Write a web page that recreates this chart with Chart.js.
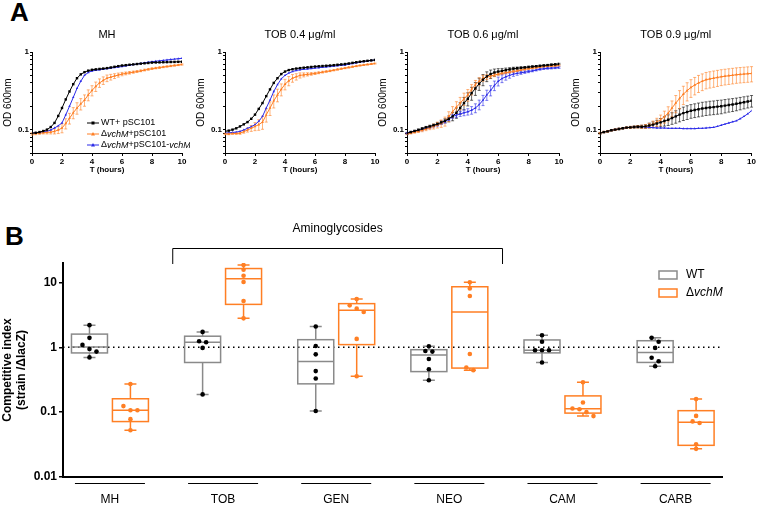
<!DOCTYPE html>
<html>
<head>
<meta charset="utf-8">
<script src="https://cdn.jsdelivr.net/npm/chart.js@4.4.1/dist/chart.umd.min.js"></script>
<style>
body { margin: 0; width: 757px; height: 505px; background: #fff; position: relative; overflow: hidden; font-family: "Liberation Sans", Arial, sans-serif; }
canvas { position: absolute; }
.panel { position: absolute; font-weight: bold; font-size: 26px; line-height: 30px; }
</style>
</head>
<body>
<div class="panel" style="left:10px;top:-3px">A</div>
<div class="panel" style="left:5px;top:221px">B</div>
<canvas id="a1" width="188" height="157" style="left:2px;top:20px"></canvas>
<canvas id="a2" width="188" height="157" style="left:195px;top:20px"></canvas>
<canvas id="a3" width="190" height="157" style="left:377px;top:20px"></canvas>
<canvas id="a4" width="187" height="157" style="left:570px;top:20px"></canvas>
<canvas id="b" width="757" height="290" style="left:0px;top:215px"></canvas>
<script>
// ---- panel A : growth curves (OD600, every 15 min) ----
const times = [0, 0.25, 0.5, 0.75, 1, 1.25, 1.5, 1.75, 2, 2.25,
    2.5, 2.75, 3, 3.25, 3.5, 3.75, 4, 4.25, 4.5, 4.75,
    5, 5.25, 5.5, 5.75, 6, 6.25, 6.5, 6.75, 7, 7.25,
    7.5, 7.75, 8, 8.25, 8.5, 8.75, 9, 9.25, 9.5, 9.75, 10];

const panelTitles = ['MH', 'TOB 0.4 \u03bcg/ml', 'TOB 0.6 \u03bcg/ml', 'TOB 0.9 \u03bcg/ml'];

// MH
const mhWT = [0.090,0.091,0.093,0.096,0.100,0.108,0.122,0.150,0.190,0.245,
    0.310,0.385,0.460,0.515,0.550,0.575,0.590,0.598,0.605,0.612,
    0.620,0.632,0.645,0.657,0.670,0.677,0.685,0.692,0.700,0.708,
    0.715,0.722,0.730,0.733,0.735,0.738,0.740,0.743,0.745,0.748,0.750];
const mhVchM = [0.088,0.089,0.090,0.091,0.092,0.093,0.095,0.099,0.105,0.120,
    0.140,0.165,0.190,0.215,0.240,0.280,0.320,0.360,0.400,0.430,
    0.460,0.475,0.490,0.505,0.520,0.530,0.540,0.550,0.560,0.572,
    0.585,0.598,0.610,0.620,0.630,0.640,0.650,0.660,0.670,0.680,0.690];
const mhVchMErr = [0.003,0.003,0.003,0.003,0.004,0.005,0.007,0.010,0.014,0.018,
    0.022,0.027,0.032,0.036,0.040,0.045,0.048,0.050,0.050,0.048,
    0.045,0.040,0.035,0.030,0.026,0.022,0.020,0.018,0.016,0.015,
    0.015,0.014,0.014,0.013,0.013,0.012,0.012,0.012,0.012,0.012,0.012];
const mhRescue = [0.090,0.091,0.092,0.093,0.095,0.099,0.105,0.112,0.122,0.155,
    0.200,0.260,0.340,0.420,0.500,0.545,0.570,0.580,0.590,0.600,
    0.610,0.620,0.630,0.640,0.650,0.662,0.675,0.688,0.700,0.712,
    0.725,0.738,0.750,0.760,0.770,0.780,0.790,0.800,0.810,0.820,0.830];

// TOB 0.4
const tob4WT = [0.095,0.097,0.100,0.104,0.110,0.117,0.125,0.138,0.156,0.185,
    0.220,0.270,0.330,0.400,0.460,0.520,0.560,0.585,0.600,0.612,
    0.620,0.628,0.635,0.642,0.650,0.655,0.660,0.665,0.670,0.677,
    0.685,0.692,0.700,0.712,0.725,0.738,0.750,0.760,0.770,0.780,0.790];
const tob4VchM = [0.088,0.088,0.089,0.089,0.090,0.094,0.099,0.104,0.110,0.116,
    0.125,0.155,0.190,0.235,0.280,0.330,0.385,0.425,0.460,0.480,
    0.500,0.508,0.515,0.522,0.530,0.540,0.550,0.560,0.570,0.582,
    0.595,0.608,0.620,0.632,0.645,0.657,0.670,0.680,0.690,0.700,0.710];
const tob4VchMErr = [0.002,0.002,0.002,0.002,0.003,0.004,0.006,0.009,0.013,0.018,
    0.024,0.030,0.038,0.045,0.052,0.058,0.060,0.058,0.052,0.045,
    0.038,0.030,0.024,0.020,0.017,0.015,0.014,0.013,0.012,0.012,
    0.011,0.011,0.011,0.010,0.010,0.010,0.010,0.010,0.010,0.010,0.010];
const tob4Rescue = [0.090,0.091,0.092,0.093,0.095,0.099,0.104,0.109,0.116,0.128,
    0.148,0.190,0.240,0.310,0.380,0.450,0.500,0.535,0.560,0.578,
    0.590,0.598,0.605,0.612,0.620,0.628,0.635,0.642,0.650,0.657,
    0.665,0.672,0.680,0.695,0.710,0.725,0.740,0.752,0.765,0.778,0.790];

// TOB 0.6
const tob6WT = [0.090,0.093,0.096,0.099,0.103,0.107,0.110,0.114,0.118,0.124,
    0.130,0.138,0.148,0.165,0.190,0.220,0.250,0.295,0.340,0.390,
    0.440,0.485,0.520,0.545,0.560,0.572,0.585,0.598,0.610,0.618,
    0.625,0.632,0.640,0.648,0.655,0.662,0.670,0.677,0.685,0.692,0.700];
const tob6WTErr = [0.002,0.002,0.002,0.003,0.003,0.003,0.004,0.004,0.005,0.006,
    0.008,0.012,0.018,0.025,0.032,0.040,0.048,0.056,0.064,0.070,
    0.072,0.070,0.065,0.058,0.050,0.042,0.036,0.030,0.026,0.022,
    0.020,0.018,0.017,0.016,0.015,0.015,0.015,0.015,0.015,0.015,0.015];
const tob6VchM = [0.088,0.090,0.093,0.095,0.098,0.102,0.106,0.110,0.115,0.120,
    0.128,0.148,0.170,0.195,0.220,0.250,0.280,0.330,0.380,0.420,
    0.460,0.475,0.490,0.505,0.520,0.530,0.540,0.550,0.560,0.572,
    0.585,0.598,0.610,0.620,0.630,0.640,0.650,0.655,0.660,0.665,0.670];
const tob6VchMErr = [0.002,0.002,0.003,0.003,0.004,0.005,0.006,0.008,0.010,0.013,
    0.017,0.022,0.028,0.034,0.040,0.045,0.048,0.050,0.050,0.046,
    0.040,0.034,0.028,0.024,0.020,0.018,0.016,0.015,0.014,0.013,
    0.013,0.012,0.012,0.012,0.012,0.012,0.012,0.012,0.012,0.012,0.012];
const tob6Rescue = [0.090,0.092,0.095,0.097,0.100,0.104,0.107,0.111,0.115,0.121,
    0.127,0.137,0.148,0.154,0.160,0.165,0.170,0.178,0.190,0.210,
    0.240,0.280,0.320,0.370,0.420,0.455,0.480,0.500,0.520,0.530,
    0.540,0.550,0.560,0.572,0.585,0.598,0.610,0.615,0.620,0.625,0.630];
const tob6RescueErr = [0.002,0.002,0.002,0.002,0.003,0.003,0.003,0.003,0.004,0.004,
    0.005,0.006,0.008,0.010,0.012,0.014,0.016,0.020,0.025,0.030,
    0.036,0.042,0.048,0.052,0.055,0.052,0.046,0.040,0.034,0.028,
    0.024,0.020,0.018,0.016,0.015,0.015,0.015,0.015,0.015,0.015,0.015];

// TOB 0.9
const tob9WT = [0.090,0.093,0.095,0.098,0.100,0.102,0.104,0.106,0.107,0.108,
    0.109,0.109,0.110,0.113,0.116,0.120,0.124,0.129,0.134,0.141,
    0.148,0.156,0.163,0.169,0.175,0.179,0.183,0.187,0.190,0.193,
    0.195,0.198,0.200,0.204,0.208,0.211,0.215,0.220,0.225,0.230,0.235];
const tob9WTErr = [0.002,0.002,0.002,0.002,0.002,0.002,0.002,0.002,0.003,0.003,
    0.004,0.005,0.006,0.008,0.010,0.012,0.015,0.018,0.021,0.024,
    0.027,0.030,0.032,0.034,0.035,0.036,0.037,0.038,0.038,0.039,
    0.039,0.040,0.040,0.040,0.040,0.040,0.040,0.040,0.040,0.040,0.040];
const tob9VchM = [0.090,0.093,0.095,0.098,0.100,0.102,0.104,0.106,0.107,0.108,
    0.109,0.109,0.110,0.113,0.118,0.125,0.134,0.147,0.163,0.190,
    0.220,0.252,0.286,0.318,0.350,0.375,0.400,0.420,0.440,0.450,
    0.460,0.470,0.480,0.488,0.495,0.502,0.510,0.515,0.520,0.525,0.530];
const tob9VchMErr = [0.002,0.002,0.002,0.002,0.002,0.002,0.002,0.002,0.003,0.003,
    0.004,0.005,0.006,0.008,0.011,0.015,0.020,0.026,0.034,0.044,
    0.055,0.066,0.076,0.084,0.090,0.095,0.099,0.102,0.105,0.107,
    0.109,0.110,0.111,0.112,0.113,0.114,0.115,0.116,0.117,0.118,0.118];
const tob9Rescue = [0.090,0.093,0.095,0.098,0.100,0.102,0.104,0.106,0.107,0.108,
    0.108,0.108,0.108,0.107,0.106,0.105,0.105,0.105,0.104,0.104,
    0.104,0.104,0.103,0.103,0.103,0.103,0.104,0.104,0.105,0.106,
    0.107,0.110,0.114,0.118,0.122,0.126,0.130,0.138,0.148,0.160,0.175];

const odTicks = [0.05, 0.06, 0.07, 0.08, 0.09, 0.1, 0.2, 0.3, 0.4, 0.5, 0.6, 0.7, 0.8, 0.9, 1];

// ---- panel B : competition index ----
const groups = ['MH', 'TOB', 'GEN', 'NEO', 'CAM', 'CARB'];
const wtValues = [
    [2.2, 1.4, 1.09, 0.94, 0.86, 0.70],
    [1.73, 1.24, 1.20, 0.98, 0.188],
    [2.1, 1.05, 0.78, 0.43, 0.33, 0.104],
    [1.04, 0.88, 0.86, 0.66, 0.46, 0.31],
    [1.54, 1.22, 0.90, 0.90, 0.90, 0.585],
    [1.40, 1.22, 0.98, 0.69, 0.61, 0.51]
];
const vchmValues = [
    [0.272, 0.124, 0.107, 0.107, 0.078, 0.0525],
    [18.6, 15.7, 12.7, 10.2, 5.2, 2.8],
    [5.57, 4.44, 3.95, 3.5, 1.35, 0.358],
    [10.1, 8.1, 6.2, 0.79, 0.49, 0.445],
    [0.29, 0.141, 0.114, 0.111, 0.10, 0.087],
    [0.159, 0.0876, 0.072, 0.068, 0.032, 0.0272]
];
const ciTicks = [0.01, 0.1, 1, 10];

const BLACK = '#000000';
const ORANGE = '#ff7f24';
const BLUE = '#2b2be8';
const GREY = '#8a8a8a';
const FONT = '"Liberation Sans", Arial, sans-serif';

// draws vertical SD bars for datasets that carry an `errors` array
const errorBars = {
    id: 'errorBars',
    beforeDatasetsDraw(chart) {
        const { ctx, scales: { x, y } } = chart;
        chart.data.datasets.forEach(ds => {
            if (!ds.errors) return;
            ctx.save();
            ctx.strokeStyle = ds.borderColor;
            ctx.globalAlpha = 0.75;
            ctx.lineWidth = 0.8;
            ds.data.forEach((p, i) => {
                const e = ds.errors[i];
                if (!e) return;
                const px = x.getPixelForValue(p.x);
                const top = y.getPixelForValue(p.y + e);
                const bot = y.getPixelForValue(Math.max(p.y - e, 0.051));
                ctx.beginPath();
                ctx.moveTo(px, top); ctx.lineTo(px, bot);
                ctx.moveTo(px - 1.5, top); ctx.lineTo(px + 1.5, top);
                ctx.moveTo(px - 1.5, bot); ctx.lineTo(px + 1.5, bot);
                ctx.stroke();
            });
            ctx.restore();
        });
    }
};

// text with some italic parts, e.g. [['\u0394', false], ['vchM', true]]
function drawRich(ctx, parts, x, y, size) {
    parts.forEach(([txt, it]) => {
        ctx.font = (it ? 'italic ' : '') + size + 'px ' + FONT;
        ctx.fillText(txt, x, y);
        x += ctx.measureText(txt).width;
    });
}

const panelTitle = {
    id: 'panelTitle',
    afterDraw(chart, args, opts) {
        const { ctx, chartArea } = chart;
        ctx.save();
        ctx.fillStyle = BLACK;
        ctx.font = '11px ' + FONT;
        ctx.textAlign = 'center';
        ctx.textBaseline = 'middle';
        ctx.fillText(opts.text, (chartArea.left + chartArea.right) / 2, chartArea.top - 17);
        ctx.restore();
    }
};

const growthLegend = {
    id: 'growthLegend',
    afterDraw(chart, args, opts) {
        if (!opts.show) return;
        const { ctx, chartArea } = chart;
        const rows = [
            [BLACK, 'rect', [['WT+ pSC101', false]]],
            [ORANGE, 'triangle', [['\u0394', false], ['vchM', true], ['+pSC101', false]]],
            [BLUE, 'triangle', [['\u0394', false], ['vchM', true], ['+pSC101-', false], ['vchM', true]]]
        ];
        ctx.save();
        rows.forEach((r, i) => {
            const y = chartArea.bottom - 30 + i * 11;
            const x0 = chartArea.left + 55;
            ctx.strokeStyle = r[0];
            ctx.lineWidth = 1;
            ctx.beginPath(); ctx.moveTo(x0, y); ctx.lineTo(x0 + 12, y); ctx.stroke();
            ctx.fillStyle = r[0];
            if (r[1] === 'rect') ctx.fillRect(x0 + 4.5, y - 1.5, 3, 3);
            else { ctx.beginPath(); ctx.moveTo(x0 + 6, y - 2); ctx.lineTo(x0 + 8, y + 1.5); ctx.lineTo(x0 + 4, y + 1.5); ctx.fill(); }
            ctx.fillStyle = BLACK;
            ctx.textBaseline = 'middle';
            drawRich(ctx, r[2], x0 + 14, y, 9);
        });
        ctx.restore();
    }
};

function toPoints(ys) {
    return times.map((t, i) => ({ x: t, y: ys[i] }));
}

function growthChart(id, title, wt, vchm, rescue, errs, padRight, showLegend) {
    const line = (label, ys, color, style, radius, err) => ({
        label: label,
        data: toPoints(ys),
        errors: err,
        borderColor: color,
        backgroundColor: color,
        borderWidth: 1,
        pointStyle: style,
        pointRadius: radius,
        pointBorderWidth: 0,
        tension: 0
    });
    new Chart(document.getElementById(id), {
        type: 'line',
        data: {
            datasets: [
                line('WT+ pSC101', wt, BLACK, 'rect', 1.7, errs[0]),
                line('\u0394vchM+pSC101', vchm, ORANGE, 'triangle', 1.6, errs[1]),
                line('\u0394vchM+pSC101-vchM', rescue, BLUE, 'triangle', 1.4, errs[2])
            ]
        },
        options: {
            responsive: false,
            animation: false,
            devicePixelRatio: 1,
            events: [],
            layout: { padding: { top: 32, right: padRight, left: 0, bottom: 0 } },
            scales: {
                x: {
                    type: 'linear', min: 0, max: 10,
                    afterFit: s => { s.height = 24; },
                    ticks: { stepSize: 2, color: BLACK, font: { family: FONT, size: 8, weight: 'bold' }, padding: 1, maxRotation: 0 },
                    grid: { drawOnChartArea: false, tickLength: 3, color: BLACK },
                    border: { color: BLACK, width: 1 },
                    title: { display: true, text: 'T (hours)', color: BLACK, font: { family: FONT, size: 8, weight: 'bold' }, padding: { top: 0, bottom: 2 } }
                },
                y: {
                    type: 'logarithmic', min: 0.05, max: 1,
                    afterFit: s => { s.width = 30; },
                    afterBuildTicks: s => { s.ticks = odTicks.map(v => ({ value: v })); },
                    ticks: {
                        color: BLACK, padding: 1, autoSkip: false,
                        font: { family: FONT, size: 8, weight: 'bold' },
                        callback: v => (v === 1 ? '1' : v === 0.1 ? '0.1' : '')
                    },
                    grid: { drawOnChartArea: false, tickLength: 2, color: BLACK },
                    border: { color: BLACK, width: 1 },
                    title: { display: true, text: 'OD 600nm', color: BLACK, font: { family: FONT, size: 10 }, padding: { top: 0, bottom: 2 } }
                }
            },
            plugins: {
                legend: { display: false },
                tooltip: { enabled: false },
                panelTitle: { text: title },
                growthLegend: { show: showLegend }
            }
        },
        plugins: [errorBars, panelTitle, growthLegend]
    });
}

growthChart('a1', panelTitles[0], mhWT, mhVchM, mhRescue, [null, mhVchMErr, null], 8, true);
growthChart('a2', panelTitles[1], tob4WT, tob4VchM, tob4Rescue, [null, tob4VchMErr, null], 8, false);
growthChart('a3', panelTitles[2], tob6WT, tob6VchM, tob6Rescue, [tob6WTErr, tob6VchMErr, tob6RescueErr], 8, false);
growthChart('a4', panelTitles[3], tob9WT, tob9VchM, tob9Rescue, [tob9WTErr, tob9VchMErr, null], 5, false);

// ---- panel B ----
const SIDE = 0.181;     // box offset from group centre (x units)
const PX = 113.1;       // px per x unit

// quartile like Prism: position p*(n+1) on sorted values
function quantile(vals, p) {
    const a = [...vals].sort((m, n) => m - n);
    const pos = p * (a.length + 1);
    if (pos <= 1) return a[0];
    if (pos >= a.length) return a[a.length - 1];
    const lo = Math.floor(pos);
    return a[lo - 1] + (pos - lo) * (a[lo] - a[lo - 1]);
}
function boxStats(vals) {
    return [Math.min(...vals), quantile(vals, 0.25), quantile(vals, 0.5), quantile(vals, 0.75), Math.max(...vals)];
}
// spread points that sit on nearly the same height
function spread(vals) {
    const order = vals.map((v, i) => i).sort((a, b) => vals[b] - vals[a]);
    const off = new Array(vals.length).fill(0);
    let k = 0;
    while (k < order.length) {
        let j = k;
        while (j + 1 < order.length && Math.log10(vals[order[j]] / vals[order[j + 1]]) < 0.07) j++;
        const n = j - k + 1;
        for (let m = 0; m < n; m++) off[order[k + m]] = (m - (n - 1) / 2) * 7 / PX;
        k = j + 1;
    }
    return off;
}
function dots(all, side) {
    const pts = [];
    all.forEach((vals, g) => {
        const off = spread(vals);
        vals.forEach((v, i) => pts.push({ x: g + side + off[i], y: v }));
    });
    return pts;
}

const boxPlugin = {
    id: 'boxes',
    beforeDatasetsDraw(chart) {
        const { ctx, chartArea, scales: { x, y } } = chart;
        ctx.save();
        // reference line at 1
        ctx.strokeStyle = BLACK;
        ctx.lineWidth = 1.5;
        ctx.setLineDash([1.5, 3.5]);
        ctx.beginPath();
        ctx.moveTo(chartArea.left, y.getPixelForValue(1));
        ctx.lineTo(chartArea.right, y.getPixelForValue(1));
        ctx.stroke();
        ctx.setLineDash([]);
        const drawBox = (vals, cx, color) => {
            const [mn, q1, md, q3, mx] = boxStats(vals);
            const px = x.getPixelForValue(cx);
            const half = 18, cap = 6;
            ctx.strokeStyle = color;
            ctx.lineWidth = 1.5;
            ctx.beginPath();
            ctx.moveTo(px, y.getPixelForValue(mx)); ctx.lineTo(px, y.getPixelForValue(q3));
            ctx.moveTo(px, y.getPixelForValue(q1)); ctx.lineTo(px, y.getPixelForValue(mn));
            ctx.moveTo(px - cap, y.getPixelForValue(mx)); ctx.lineTo(px + cap, y.getPixelForValue(mx));
            ctx.moveTo(px - cap, y.getPixelForValue(mn)); ctx.lineTo(px + cap, y.getPixelForValue(mn));
            ctx.moveTo(px - half, y.getPixelForValue(md)); ctx.lineTo(px + half, y.getPixelForValue(md));
            ctx.stroke();
            ctx.strokeRect(px - half, y.getPixelForValue(q3), 2 * half, y.getPixelForValue(q1) - y.getPixelForValue(q3));
        };
        groups.forEach((g, i) => {
            drawBox(wtValues[i], i - SIDE, GREY);
            drawBox(vchmValues[i], i + SIDE, ORANGE);
        });
        ctx.restore();
    },
    afterDraw(chart) {
        const { ctx, chartArea, scales: { x } } = chart;
        ctx.save();
        ctx.strokeStyle = BLACK;
        ctx.lineWidth = 1;
        // group underlines
        groups.forEach((g, i) => {
            const px = x.getPixelForValue(i);
            ctx.beginPath();
            ctx.moveTo(px - 35, chartArea.bottom + 6.5);
            ctx.lineTo(px + 35, chartArea.bottom + 6.5);
            ctx.stroke();
        });
        // aminoglycosides bracket
        const xa = x.getPixelForValue(0.555), xb = x.getPixelForValue(3.47);
        const yt = chartArea.top - 14.5;
        ctx.beginPath();
        ctx.moveTo(xa, chartArea.top + 1); ctx.lineTo(xa, yt); ctx.lineTo(xb, yt); ctx.lineTo(xb, chartArea.top + 1);
        ctx.stroke();
        ctx.fillStyle = BLACK;
        ctx.font = '12px ' + FONT;
        ctx.textAlign = 'center';
        ctx.textBaseline = 'middle';
        ctx.fillText('Aminoglycosides', (xa + xb) / 2, chartArea.top - 34);
        // legend
        ctx.textAlign = 'left';
        ctx.lineWidth = 1.5;
        const lx = chartArea.right - 63;
        [[GREY, [['WT', false]]], [ORANGE, [['\u0394', false], ['vchM', true]]]].forEach((r, i) => {
            const ly = chartArea.top + 12 + i * 18;
            ctx.strokeStyle = r[0];
            ctx.strokeRect(lx, ly - 4, 18, 8);
            ctx.fillStyle = BLACK;
            drawRich(ctx, r[1], lx + 27, ly, 12);
        });
        ctx.restore();
    }
};

new Chart(document.getElementById('b'), {
    type: 'scatter',
    data: {
        datasets: [
            { label: 'WT', data: dots(wtValues, -SIDE), backgroundColor: BLACK, pointRadius: 2.3, pointBorderWidth: 0 },
            { label: '\u0394vchM', data: dots(vchmValues, SIDE), backgroundColor: ORANGE, pointRadius: 2.3, pointBorderWidth: 0 }
        ]
    },
    options: {
        responsive: false,
        animation: false,
        devicePixelRatio: 1,
        events: [],
        layout: { padding: { top: 48, right: 35, left: 0, bottom: 0 } },
        scales: {
            x: {
                type: 'linear', min: -0.415, max: 5.41,
                afterFit: s => { s.height = 28; },
                afterBuildTicks: s => { s.ticks = groups.map((g, i) => ({ value: i })); },
                ticks: { color: BLACK, padding: 7, maxRotation: 0, autoSkip: false, font: { family: FONT, size: 12 }, callback: v => groups[v] },
                grid: { display: false },
                border: { color: BLACK, width: 2 }
            },
            y: {
                type: 'logarithmic', min: 0.01, max: 20,
                afterFit: s => { s.width = 63; },
                afterBuildTicks: s => { s.ticks = ciTicks.map(v => ({ value: v })); },
                ticks: { color: BLACK, padding: 2, autoSkip: false, font: { family: FONT, size: 12, weight: 'bold' }, callback: v => String(v) },
                grid: { drawOnChartArea: false, tickLength: 4, color: BLACK, lineWidth: 1.5 },
                border: { color: BLACK, width: 2 },
                title: { display: true, text: ['Competitive index', '(strain /\u0394lacZ)'], color: BLACK, font: { family: FONT, size: 12, weight: 'bold' }, padding: { top: 0, bottom: 2 } }
            }
        },
        plugins: { legend: { display: false }, tooltip: { enabled: false } }
    },
    plugins: [boxPlugin]
});
</script>
</body>
</html>
